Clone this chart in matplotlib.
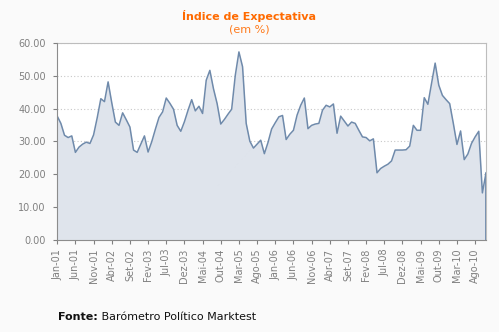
import numpy as np
import matplotlib.pyplot as plt

# Índice de Expectativa, monthly, Jan-01 .. Nov-10
indice = [37.7, 35.5, 31.9, 31.2, 31.7, 26.7, 28.3, 29.2, 29.8, 29.4,
          32.0, 37.2, 43.0, 42.1, 48.1, 41.8, 35.9, 34.9, 38.7, 36.6,
          34.4, 27.4, 26.7, 29.2, 31.7, 26.8, 29.9, 33.7, 37.3, 39.0,
          43.2, 41.6, 39.8, 34.9, 33.1, 36.0, 39.5, 42.7, 39.3, 40.7,
          38.5, 48.6, 51.6, 46.0, 41.5, 35.3, 36.7, 38.3, 39.8, 50.1,
          57.2, 52.7, 35.5, 30.1, 28.0, 29.2, 30.4, 26.3, 29.7, 33.8,
          35.7, 37.5, 37.9, 30.6, 32.2, 33.4, 38.0, 41.0, 43.2, 33.9,
          34.9, 35.3, 35.5, 39.5, 41.0, 40.5, 41.4, 32.5, 37.7, 36.2,
          34.7, 35.9, 35.5, 33.4, 31.4, 31.2, 30.2, 30.8, 20.5, 21.8,
          22.5, 23.1, 24.1, 27.4, 27.4, 27.4, 27.5, 28.6, 34.9, 33.4,
          33.4, 43.3, 41.3, 47.6, 53.8, 47.1, 44.0, 42.7, 41.5, 35.5,
          29.1, 33.2, 24.5, 26.2, 29.4, 31.4, 33.1, 14.4, 20.5]

meses = ["Jan", "Fev", "Mar", "Abr", "Mai", "Jun",
         "Jul", "Ago", "Set", "Out", "Nov", "Dez"]
anos = list(range(2001, 2011))
yticks = [0, 10, 20, 30, 40, 50, 60]

labels = [f"{m}-{a % 100:02d}" for a in anos for m in meses][:len(indice)]
x = np.arange(len(indice))

line_c = "#6f8aab"
fill_c = "#dfe4ec"
grey = "#808080"

fig = plt.figure(figsize=(4.99, 3.32), dpi=100, facecolor="#fafafa")
ax = fig.add_axes([0.1136, 0.2762, 0.8604, 0.5952])
ax.set_facecolor("white")

ax.fill_between(x, indice, 0, color=fill_c, lw=0, zorder=2)
ax.plot(x, indice, color=line_c, lw=1.1, zorder=3)
ax.vlines([x[0], x[-1]], 0, [indice[0], indice[-1]], color=line_c, lw=1.3, zorder=3)

ax.set_xlim(-0.15, x[-1])
ax.set_ylim(0, 60)
ax.set_yticks(yticks)
ax.set_yticklabels([f"{v:.2f}" for v in yticks])
ax.set_xticks(x[::5])
ax.set_xticklabels(labels[::5], rotation=90)

ax.grid(axis="y", color="#c8c8c8", ls=(0, (1, 2)), lw=0.8, zorder=1)
ax.tick_params(axis="both", colors=grey, labelsize=7, length=3, width=0.8)
ax.tick_params(axis="y", pad=5)
ax.tick_params(axis="x", pad=3)

for s in ["left", "bottom"]:
    ax.spines[s].set_color("#8c8c8c")
    ax.spines[s].set_zorder(4)
for s in ["top", "right"]:
    ax.spines[s].set_color("#bdbdbd")
    ax.spines[s].set_linewidth(0.8)

fig.text(0.5, 0.952, "Índice de Expectativa", ha="center", va="center",
         color="#ff6a00", fontsize=8, fontweight="bold")
fig.text(0.5, 0.91, "(em %)", ha="center", va="center",
         color="#ff7a1a", fontsize=8)

# source line: bold prefix, then the rest right after it
t = fig.text(0.116, 0.046, "Fonte:", ha="left", va="center",
             fontsize=8, fontweight="bold", color="#111111")
ax.annotate(" Barómetro Político Marktest", xy=(1, 0.5), xycoords=t,
            ha="left", va="center", fontsize=8, color="#111111",
            annotation_clip=False)

fig.savefig("out.png", dpi=100, facecolor=fig.get_facecolor())
